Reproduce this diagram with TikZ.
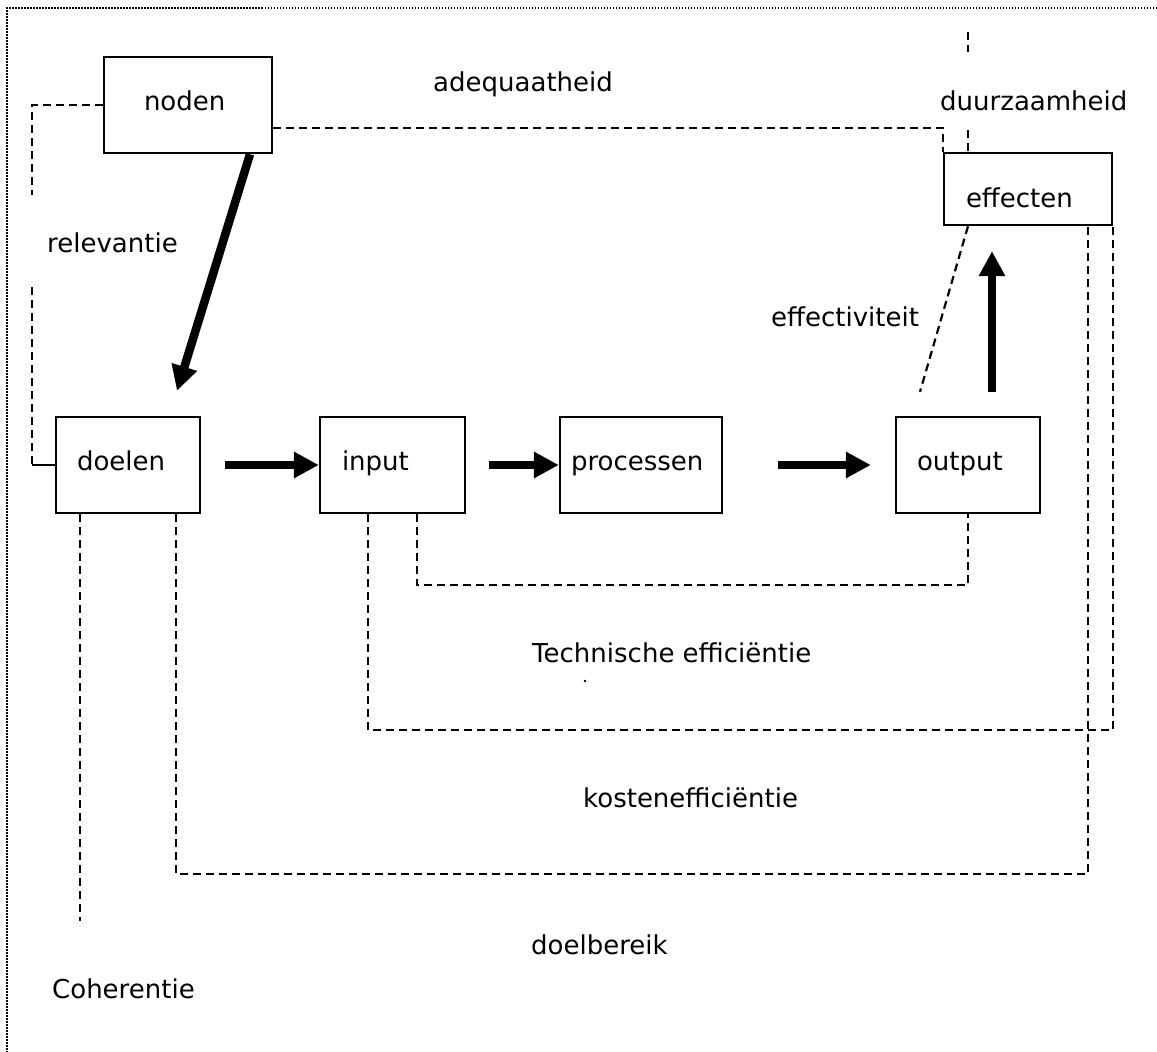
\documentclass[tikz,border=0pt]{standalone}
\usepackage{fontspec}
\setmainfont{DejaVu Sans}
\usetikzlibrary{arrows.meta}
\begin{document}
\begin{tikzpicture}[x=1pt,y=-1pt,
  box/.style={draw, line width=2.4pt, inner ysep=0pt, align=left,
    font=\fontsize{26}{31}\selectfont, text height=19pt, text depth=9pt},
  lbl/.style={inner sep=0pt, anchor=base west, font=\fontsize{26}{31}\selectfont},
  dsh/.style={line width=2.2pt, dash pattern=on 8pt off 5pt},
  fat/.style={line width=8.5pt, -{Triangle[length=25pt,width=25pt]}}
]
\useasboundingbox (0,0) rectangle (1157,1052);
\draw[line width=2pt, dash pattern=on 1.5pt off 1.5pt] (1157,8) -- (7,8) -- (7,1052);

% boxes
\node[box, minimum width=168pt, minimum height=96pt, inner xsep=40pt, text width=88pt] (noden) at (188,105) {noden};
\node[box, minimum width=144pt, minimum height=96pt, inner xsep=21pt, text width=102pt] (doelen) at (128,465) {doelen};
\node[box, minimum width=145pt, minimum height=96pt, inner xsep=22pt, text width=101pt] (input) at (392.5,465) {input};
\node[box, minimum width=162pt, minimum height=96pt, inner xsep=11pt, text width=140pt] (processen) at (641,465) {processen};
\node[box, minimum width=144pt, minimum height=96pt, inner xsep=21pt, text width=102pt] (output) at (968,465) {output};
\node[box, minimum width=168pt, minimum height=72pt, inner xsep=22pt, text width=124pt, text height=45pt] (effecten) at (1028,189) {effecten};

% thick arrows
\draw[fat] ([xshift=62pt]noden.south) -- ([xshift=49pt,yshift=25pt]doelen.north);
\draw[fat] ([xshift=24pt]doelen.east) -- (input.west);
\draw[fat] ([xshift=23pt]input.east) -- (processen.west);
\draw[fat] ([xshift=55pt]processen.east) -- ([xshift=-24pt]output.west);
\draw[fat] ([xshift=24pt,yshift=24pt]output.north) -- ([xshift=-36pt,yshift=-25pt]effecten.south);

% dashed connectors
\coordinate (r1) at (32,195);
\coordinate (r2) at (32,287);
\draw[dsh] (noden.west) -| (r1);
\draw[dsh] (r2) -- (r2 |- doelen.west);
\draw[line width=2.2pt] (r2 |- doelen.west) -- (doelen.west);

\draw[dsh] ([yshift=-23pt]noden.east) -| (effecten.north west);

\coordinate (d1) at (968,32);
\coordinate (d2) at (968,52);
\coordinate (d3) at (968,130);
\draw[dsh] (d1) -- (d2);
\draw[dsh] (d3) -- ([xshift=-60pt]effecten.north);

\draw[dsh] ([xshift=-60pt]effecten.south) -- ([xshift=-48pt,yshift=24pt]output.north);

\draw[dsh] ([xshift=24.5pt]input.south) -- ++(0,71) -| (output.south);
\draw[dsh] ([xshift=-24.5pt]input.south) -- ++(0,216) -| (effecten.south east);
\draw[dsh] ([xshift=48pt]doelen.south) -- ++(0,360) -| ([xshift=60pt]effecten.south);
\draw[dsh] ([xshift=-48pt]doelen.south) -- ++(0,407);

% labels
\node[lbl] (l1) at (433,91) {adequaatheid};
\node[lbl] (l2) at (940,110) {duurzaamheid};
\node[lbl] (l3) at (47,252) {relevantie};
\node[lbl] (l4) at (771,326) {effectiviteit};
\node[lbl] (l5) at (532,662) {Technische efficiëntie};
\node[lbl] (l6) at (583,807) {kostenefficiëntie};
\node[lbl] (l7) at (531,954) {doelbereik};
\node[lbl] (l8) at (52,998) {Coherentie};
\fill (585,681) circle (1.3);
\end{tikzpicture}
\end{document}
